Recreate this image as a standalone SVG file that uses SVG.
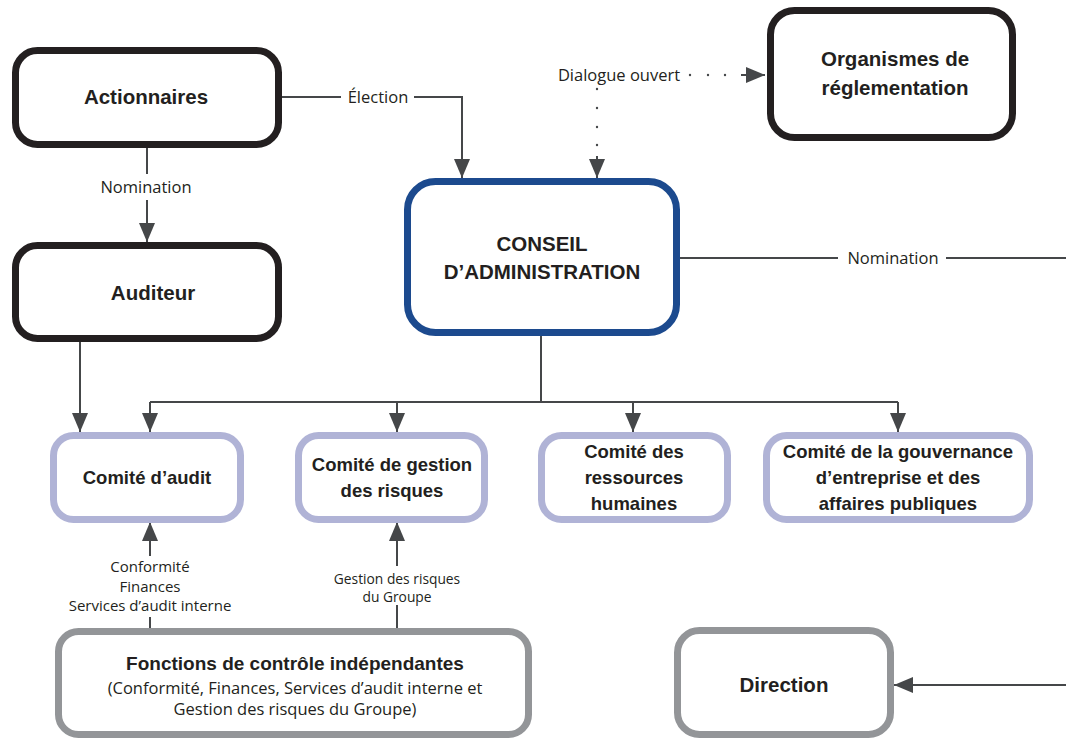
<svg xmlns="http://www.w3.org/2000/svg" width="1066" height="738" viewBox="0 0 1066 738">
<style>
.dark{fill:#fff;stroke:#231f20;stroke-width:7}
.blue{fill:#fff;stroke:#1c4a8e;stroke-width:7}
.lav{fill:#fff;stroke:#b0b3d6;stroke-width:7}
.gray{fill:#fff;stroke:#939598;stroke-width:7}
.t{font-family:"Liberation Sans",Arial,sans-serif;font-weight:bold;fill:#231f20;text-anchor:middle}
.l{font-family:"Open Sans","Liberation Sans",sans-serif;fill:#231f20;text-anchor:middle}
.c{fill:none;stroke:#454749;stroke-width:2}
.dot{fill:#454749}
</style>
<defs>
<marker id="ah" markerUnits="userSpaceOnUse" markerWidth="19" markerHeight="16" viewBox="0 0 19 16" refX="19" refY="8" orient="auto">
<path d="M0,0 L19,8 L0,16 Z" fill="#454749"/>
</marker>
</defs>
<g id="connectors">
<path class="c" d="M282,97 H341"/>
<path class="c" d="M414,97 H462 V178" marker-end="url(#ah)"/>
<text class="l" x="378" y="103" font-size="16.5">Élection</text>
<path class="c" d="M147,148 V174"/>
<path class="c" d="M147,200 V242" marker-end="url(#ah)"/>
<text class="l" x="146" y="193" font-size="16.5">Nomination</text>
<text class="l" x="619" y="81" font-size="16.5">Dialogue ouvert</text>
<circle class="dot" cx="690" cy="75" r="1.2"/>
<circle class="dot" cx="708" cy="75" r="1.2"/>
<circle class="dot" cx="725" cy="75" r="1.2"/>
<path class="c" d="M741,75 H765" marker-end="url(#ah)"/>
<circle class="dot" cx="597" cy="89" r="1.2"/>
<circle class="dot" cx="597" cy="108" r="1.2"/>
<circle class="dot" cx="597" cy="127" r="1.2"/>
<circle class="dot" cx="597" cy="145" r="1.2"/>
<path class="c" d="M597,156 V178" marker-end="url(#ah)"/>
<path class="c" d="M680,258 H838"/>
<path class="c" d="M946,258 H1066"/>
<text class="l" x="893" y="264" font-size="16.5">Nomination</text>
<path class="c" d="M1066,685 H894" marker-end="url(#ah)"/>
<path class="c" d="M541,336 V402"/>
<path class="c" d="M150,402 H898"/>
<path class="c" d="M150,402 V432" marker-end="url(#ah)"/>
<path class="c" d="M397,402 V432" marker-end="url(#ah)"/>
<path class="c" d="M633,402 V432" marker-end="url(#ah)"/>
<path class="c" d="M898,402 V432" marker-end="url(#ah)"/>
<path class="c" d="M80,342 V432" marker-end="url(#ah)"/>
<path class="c" d="M150,628 V617"/>
<path class="c" d="M150,556 V522" marker-end="url(#ah)"/>
<text class="l" x="150" y="572" font-size="15">Conformité</text>
<text class="l" x="150" y="592" font-size="15">Finances</text>
<text class="l" x="150" y="611" font-size="15">Services d’audit interne</text>
<path class="c" d="M397,628 V605"/>
<path class="c" d="M397,566 V522" marker-end="url(#ah)"/>
<text class="l" x="397" y="584" font-size="13.8">Gestion des risques</text>
<text class="l" x="397" y="602" font-size="13.8">du Groupe</text>
</g>
<g id="actionnaires">
<rect class="dark" x="15.5" y="50.5" width="263" height="94" rx="22"/>
<text class="t" x="146" y="104" font-size="20.5">Actionnaires</text>
</g>
<g id="auditeur">
<rect class="dark" x="15.5" y="245.5" width="263" height="93" rx="22"/>
<text class="t" x="153" y="300" font-size="20.5">Auditeur</text>
</g>
<g id="organismes">
<rect class="dark" x="770.5" y="10.5" width="242" height="127" rx="24"/>
<text class="t" x="895" y="66" font-size="20.5">Organismes de</text>
<text class="t" x="895" y="95" font-size="20.5">réglementation</text>
</g>
<g id="conseil">
<rect class="blue" x="407.5" y="181.5" width="269" height="151" rx="28"/>
<text class="t" x="542" y="251" font-size="20.5">CONSEIL</text>
<text class="t" x="542" y="279" font-size="20.5">D’ADMINISTRATION</text>
</g>
<g id="comite-audit">
<rect class="lav" x="53.5" y="435.5" width="187" height="84" rx="20"/>
<text class="t" x="147" y="484" font-size="18.5">Comité d’audit</text>
</g>
<g id="comite-risques">
<rect class="lav" x="298.5" y="435.5" width="186" height="84" rx="20"/>
<text class="t" x="392" y="471" font-size="18.5">Comité de gestion</text>
<text class="t" x="392" y="497" font-size="18.5">des risques</text>
</g>
<g id="comite-rh">
<rect class="lav" x="541.5" y="435.5" width="186" height="84" rx="20"/>
<text class="t" x="634" y="458" font-size="18.5">Comité des</text>
<text class="t" x="634" y="484" font-size="18.5">ressources</text>
<text class="t" x="634" y="510" font-size="18.5">humaines</text>
</g>
<g id="comite-gouvernance">
<rect class="lav" x="766.5" y="435.5" width="263" height="84" rx="20"/>
<text class="t" x="898" y="458" font-size="18.5">Comité de la gouvernance</text>
<text class="t" x="898" y="484" font-size="18.5">d’entreprise et des</text>
<text class="t" x="898" y="510" font-size="18.5">affaires publiques</text>
</g>
<g id="fonctions">
<rect class="gray" x="58.5" y="631.5" width="470" height="103" rx="20"/>
<text class="t" x="295" y="670" font-size="19">Fonctions de contrôle indépendantes</text>
<text class="l" x="295" y="694" font-size="16.5">(Conformité, Finances, Services d’audit interne et</text>
<text class="l" x="295" y="715" font-size="16.5">Gestion des risques du Groupe)</text>
</g>
<g id="direction">
<rect class="gray" x="677.5" y="630.5" width="213" height="104" rx="22"/>
<text class="t" x="784" y="692" font-size="20.5">Direction</text>
</g>
</svg>
